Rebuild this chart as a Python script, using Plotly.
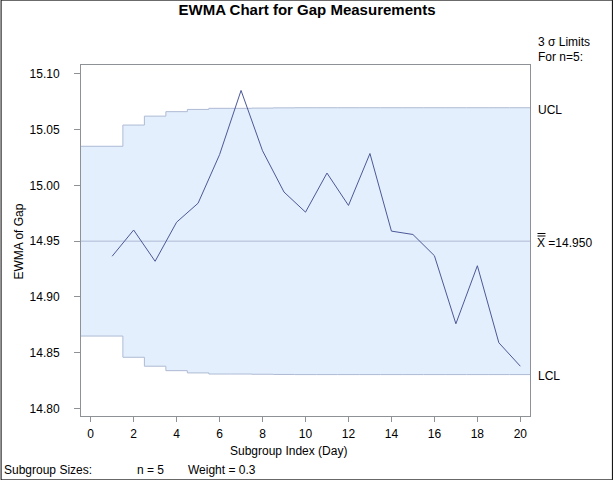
import plotly.graph_objects as go

# ---- data ----
subgroup = list(range(1, 21))
ewma = [14.9365, 14.960, 14.932, 14.967, 14.984, 15.0275, 15.085, 15.031, 14.994, 14.976,
        15.011, 14.982, 15.0285, 14.959, 14.956, 14.937, 14.876, 14.928, 14.859, 14.838]
ucl = [15.035, 15.054, 15.062, 15.066, 15.068, 15.069, 15.069, 15.0692, 15.0694, 15.0695,
       15.0695, 15.0695, 15.0695, 15.0695, 15.0695, 15.0695, 15.0695, 15.0695, 15.0695, 15.0695]
lcl = [14.865, 14.846, 14.838, 14.834, 14.832, 14.831, 14.831, 14.8308, 14.8306, 14.8305,
       14.8305, 14.8305, 14.8305, 14.8305, 14.8305, 14.8305, 14.8305, 14.8305, 14.8305, 14.8305]
center = 14.950
x_ticks = [0, 2, 4, 6, 8, 10, 12, 14, 16, 18, 20]
y_ticks = [14.80, 14.85, 14.90, 14.95, 15.00, 15.05, 15.10]

# ---- layout geometry ----
W, H = 614, 480
L, R, T, B = 80.5, 530.0, 65.3, 415.7
XR = [-0.45, 20.45]
YR = [14.7934, 15.1078]

def px(xp):
    return (xp - L) / (R - L)

def py(yp):
    return (B - yp) / (B - T)

FONT = "Liberation Sans, Arial, sans-serif"
FILL = "#E4EFFD"
LIMIT_C = "#AEBAD4"
LINE_C = "#4B5897"
AXIS_C = "#8E9296"

# step coordinates for limits, extended to the plot edges
step_x = [XR[0]] + [s + 0.5 for s in subgroup[:-1]] + [XR[1]]
step_u = ucl + [ucl[-1]]
step_l = lcl + [lcl[-1]]

fig = go.Figure()
fig.add_trace(go.Scatter(x=step_x, y=step_l, mode="lines", line=dict(color=LIMIT_C, width=1, shape="hv"),
                         hoverinfo="skip", showlegend=False))
fig.add_trace(go.Scatter(x=step_x, y=step_u, mode="lines", line=dict(color=LIMIT_C, width=1, shape="hv"),
                         fill="tonexty", fillcolor=FILL, hoverinfo="skip", showlegend=False))
fig.add_trace(go.Scatter(x=XR, y=[center, center], mode="lines", line=dict(color=LIMIT_C, width=1),
                         hoverinfo="skip", showlegend=False))
fig.add_trace(go.Scatter(x=subgroup, y=ewma, mode="lines", line=dict(color=LINE_C, width=1),
                         showlegend=False))

fig.update_layout(
    width=W, height=H,
    margin=dict(l=L, r=W - R, t=T, b=H - B, pad=0),
    paper_bgcolor="white", plot_bgcolor="white",
    font=dict(family=FONT, size=12, color="black"),
    title=dict(text="<b>EWMA Chart for Gap Measurements</b>", x=0.5, xanchor="center",
               y=1 - 10 / H, yanchor="middle", font=dict(size=15, family=FONT)),
    xaxis=dict(range=XR, tickvals=x_ticks, ticks="outside", ticklen=5, tickcolor=AXIS_C,
               showgrid=False, zeroline=False, showline=True, linecolor=AXIS_C, mirror=True,
               tickfont=dict(size=12), ticklabelstandoff=2),
    yaxis=dict(range=YR, tickvals=y_ticks, tickformat=".2f", ticks="outside", ticklen=6, tickcolor=AXIS_C,
               showgrid=False, zeroline=False, showline=True, linecolor=AXIS_C, mirror=True,
               tickfont=dict(size=12), ticklabelstandoff=12),
)

# axis titles
fig.add_annotation(text="Subgroup Index (Day)", xref="paper", yref="paper", x=px(288), y=py(451),
                   xanchor="center", yanchor="middle", showarrow=False, font=dict(size=12, family=FONT))
fig.add_annotation(text="EWMA of Gap", xref="paper", yref="paper", x=px(18), y=py(242),
                   xanchor="center", yanchor="middle", textangle=-90, showarrow=False,
                   font=dict(size=12, family=FONT))

ann = [
    ("3 \u03c3 Limits", 536, 42),
    ("For n=5:", 536, 57),
    ("UCL", 536, 110),
    ("X =14.950", 535, 243),
    ("LCL", 536, 376),
    ("Subgroup Sizes:", 1, 470),
    ("n = 5", 135, 470),
    ("Weight = 0.3", 186, 470),
]
for text, xp, yp in ann:
    fig.add_annotation(text=text, xref="paper", yref="paper", x=px(xp), y=py(yp),
                       xanchor="left", yanchor="middle", showarrow=False,
                       font=dict(size=12, family=FONT, color="black"))

# double bar over the X of the centre label
for yb in (233.5, 236.0):
    fig.add_shape(type="line", xref="paper", yref="paper", x0=px(537.5), x1=px(545.5),
                  y0=py(yb), y1=py(yb), line=dict(color="black", width=1))

# outer frame
fig.add_shape(type="rect", xref="paper", yref="paper",
              x0=px(0.5), x1=px(612.5), y0=py(479.5), y1=py(0.5),
              line=dict(color="black", width=1), layer="above")

fig.write_html("out.html", config={"displayModeBar": False},
               post_script="document.body.style.margin='0';document.body.style.overflow='hidden';")
